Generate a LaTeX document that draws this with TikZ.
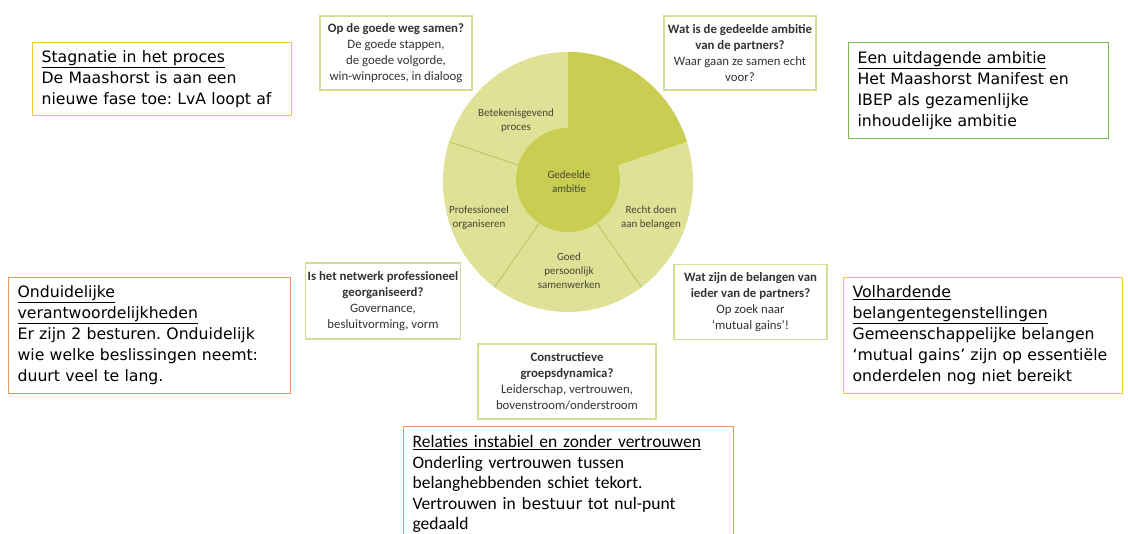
\documentclass[tikz,border=0pt]{standalone}
\usepackage{fontspec}
\usepackage{xcolor}
\usepackage{tikz}
\frenchspacing
\newfontfamily\boxfont{DejaVu Sans}
\newfontfamily\wheelfont{Carlito}
\definecolor{wheellight}{RGB}{223,226,150}
\definecolor{wheeldark}{RGB}{201,206,82}
\definecolor{wheelline}{RGB}{186,192,96}
\definecolor{wheeltext}{RGB}{70,70,50}
\definecolor{qborder}{RGB}{214,219,150}
\definecolor{goldline}{RGB}{247,196,60}
\definecolor{greenline}{RGB}{120,185,80}
\definecolor{orangeline}{RGB}{240,150,90}
\tikzstyle{question} = [rectangle, draw=qborder, line width=1.2pt, fill=white, align=center, text=black!80, inner sep=2pt, font=\wheelfont\fontsize{12.8}{16}\selectfont]
\tikzstyle{problem} = [rectangle, line width=1.2pt, anchor=north west, align=left, inner xsep=9pt, font=\boxfont\fontsize{15.7}{21}\selectfont]
\tikzstyle{segment} = [align=center, text=wheeltext, font=\wheelfont\fontsize{11}{14}\selectfont]
\tikzstyle{divider} = [wheelline, line width=0.8pt]

\begin{document}
\begin{tikzpicture}[x=1pt, y=-1pt]
\useasboundingbox (0,0) rectangle (1128,534);
% wheel
\coordinate (hub) at (568,182);
\fill [wheellight] (hub) ellipse [x radius=125, y radius=130];
\fill [wheeldark] (hub) -- ++(-90:125 and 130) arc [start angle=-90, end angle=-18, x radius=125, y radius=130] -- cycle;
\draw [divider] (hub) -- ++(54:125 and 130);
\draw [divider] (hub) -- ++(126:125 and 130);
\draw [divider] (hub) -- ++(198:125 and 130);
\fill [wheeldark] (568,180) circle [radius=52];

\node (proces) [segment] at (516,121) {Betekenisgevend\\proces};
\node (ambitie) [segment] at (569,182) {Gedeelde\\ambitie};
\node (organiseren) [segment] at (479,218) {Professioneel\\organiseren};
\node (belangen) [segment] at (651,218) {Recht doen\\aan belangen};
\node (samenwerken) [segment] at (569,271) {Goed\\persoonlijk\\samenwerken};

% questions round the wheel
\node (weg) [question, minimum width=152pt, minimum height=74pt] at (396,53) {\textbf{Op de goede weg samen?}\\De goede stappen,\\de goede volgorde,\\win-winproces, in dialoog};
\node (gedeeld) [question, minimum width=152pt, minimum height=74pt] at (740,53) {\textbf{Wat is de gedeelde ambitie}\\\textbf{van de partners?}\\Waar gaan ze samen echt\\voor?};
\node (netwerk) [question, minimum width=154pt, minimum height=76pt] at (383,301) {\textbf{Is het netwerk professioneel}\\\textbf{georganiseerd?}\\Governance,\\besluitvorming, vorm};
\node (gains) [question, minimum width=153pt, minimum height=75pt] at (750.5,302) {\textbf{Wat zijn de belangen van}\\\textbf{ieder van de partners?}\\Op zoek naar\\‘mutual gains’!};
\node (groep) [question, minimum width=178pt, minimum height=75pt] at (567,381.5) {\textbf{Constructieve}\\\textbf{groepsdynamica?}\\Leiderschap, vertrouwen,\\bovenstroom/onderstroom};

% problems
\node (stagnatie) [problem, draw=goldline, text width=241pt, minimum height=73pt] at (32,42) {\underline{Stagnatie in het proces}\\De Maashorst is aan een\\nieuwe fase toe: LvA loopt af};
\node (uitdaging) [problem, draw=greenline, text width=242pt, minimum height=96pt] at (848,42) {\underline{Een uitdagende ambitie}\\Het Maashorst Manifest en\\IBEP als gezamenlijke\\inhoudelijke ambitie};
\node (onduidelijk) [problem, draw=orangeline, text width=264pt, minimum height=116pt] at (8,277) {\underline{Onduidelijke}\\\underline{verantwoordelijkheden}\\Er zijn 2 besturen. Onduidelijk\\wie welke beslissingen neemt:\\duurt veel te lang.};
\node (tegenstelling) [problem, draw=goldline, text width=261pt, minimum height=116pt] at (843,277) {\underline{Volhardende}\\\underline{belangentegenstellingen}\\Gemeenschappelijke belangen\\‘mutual gains’ zijn op essentiële\\onderdelen nog niet bereikt};
\node (relaties) [problem, draw=orangeline, text width=312pt, inner ysep=9pt, font=\wheelfont\fontsize{17.5}{20.5}\selectfont] at (403,426) {\underline{Relaties instabiel en zonder vertrouwen}\\Onderling vertrouwen tussen\\belanghebbenden schiet tekort.\\Vertrouwen in {\boxfont\fontsize{15.7}{20.5}\selectfont bestuur} tot nul-punt\\gedaald};
\end{tikzpicture}
\end{document}
